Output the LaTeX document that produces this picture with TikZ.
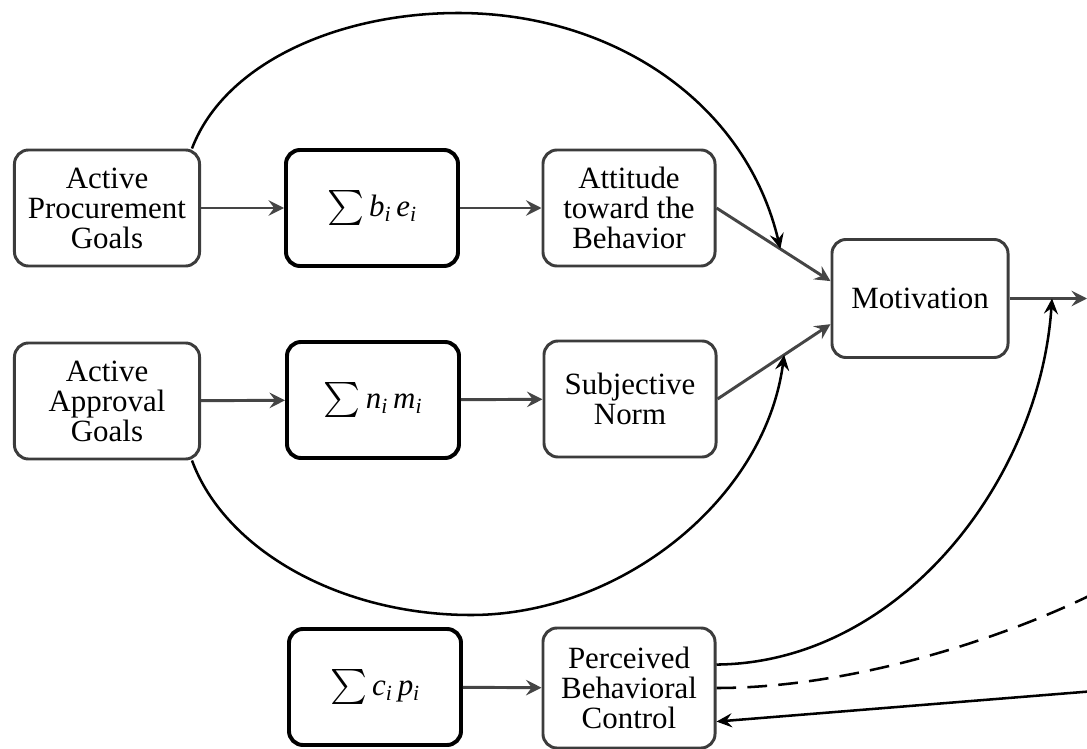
\documentclass[tikz,border=0pt]{standalone}
\usepackage{amsmath}
\usepackage{fontspec}
\setmainfont{Liberation Serif}
\usetikzlibrary{arrows.meta}
\definecolor{boxgray}{HTML}{3C3C3C}
\definecolor{linegray}{HTML}{454545}
\newcommand{\bigsum}{{\fontsize{29}{29}\selectfont$\sum$}}

\begin{document}
\begin{tikzpicture}[x=0.025cm, y=-0.025cm]
		\tikzset{box/.style = {shape=rectangle, draw=boxgray, line width=2.1pt, rounded corners=10pt, minimum width=4.3cm, minimum height=2.9cm, align=center, inner sep=2pt, font=\fontsize{22}{21.3}\selectfont}}
		\tikzset{sumbox/.style = {box, draw=black, line width=2.8pt}}
		\tikzset{edge/.style = {draw=linegray, line width=2.1pt, -{Stealth[length=11pt, width=11pt, inset=4pt]}}}
		\tikzset{arc/.style = {draw=black, line width=1.8pt, -{Stealth[length=11pt, width=10pt, inset=4pt]}}}

		\useasboundingbox (0,0) rectangle (1087,749);

		\node[box, minimum width=4.625cm] (G_1) at (107,208) {Active\\Procurement\\Goals};
		\node[sumbox] (S_1) at (372,208) {\bigsum\,\textit{b}\textsubscript{\textit{i}}\,\textit{e}\textsubscript{\textit{i}}};
		\node[box] (A_1) at (629,208) {Attitude\\toward the\\Behavior};

		\node[box, minimum width=4.625cm] (G_2) at (107,401) {Active\\Approval\\Goals};
		\node[sumbox] (S_2) at (373,400) {\bigsum\,\textit{n}\textsubscript{\textit{i}}\,\textit{m}\textsubscript{\textit{i}}};
		\node[box] (N_1) at (630,399) {Subjective\\Norm};

		\node[sumbox] (S_3) at (375,687) {\bigsum\,\textit{c}\textsubscript{\textit{i}}\,\textit{p}\textsubscript{\textit{i}}};
		\node[box, minimum height=3cm] (C_1) at (629,688) {Perceived\\Behavioral\\Control};

		\node[box, minimum width=4.4cm, minimum height=2.95cm] (M) at (920,298.5) {Motivation};

		\coordinate (o_1) at (1087,298.5);
		\coordinate (m_1) at (1052,298.5);
		\coordinate (r_1) at (1095,593);
		\coordinate (r_2) at (1095,691);

		\draw[edge] (G_1) to (S_1);
		\draw[edge] (S_1) to (A_1);
		\draw[edge] (A_1.east) -- (M.169) coordinate[pos=0.56] (t_1);

		\draw[edge] (G_2) to (S_2);
		\draw[edge] (S_2) to (N_1);
		\draw[edge] (N_1.east) -- (M.196) coordinate[pos=0.59] (t_2);

		\draw[edge] (S_3) to (C_1);
		\draw[edge] (M) to (o_1);

		% paths round the middle rows
		\draw[arc] (G_1.35) .. controls (225,62) and (340,13) .. (458,13)
			.. controls (610,13) and (745,100) .. (t_1);
		\draw[arc] (G_2.-35) .. controls (225,550) and (340,615) .. (471,615)
			.. controls (620,615) and (765,500) .. (t_2);

		% perceived control
		\draw[arc] (C_1.15) .. controls (900,663) and (1040,480) .. (m_1);
		\draw[black, line width=1.8pt, dash pattern=on 14pt off 8pt] (C_1.east) .. controls (850,688) and (1000,640) .. (r_1);
		\draw[arc] (r_2) to (C_1.-21);

	\end{tikzpicture}
\end{document}
